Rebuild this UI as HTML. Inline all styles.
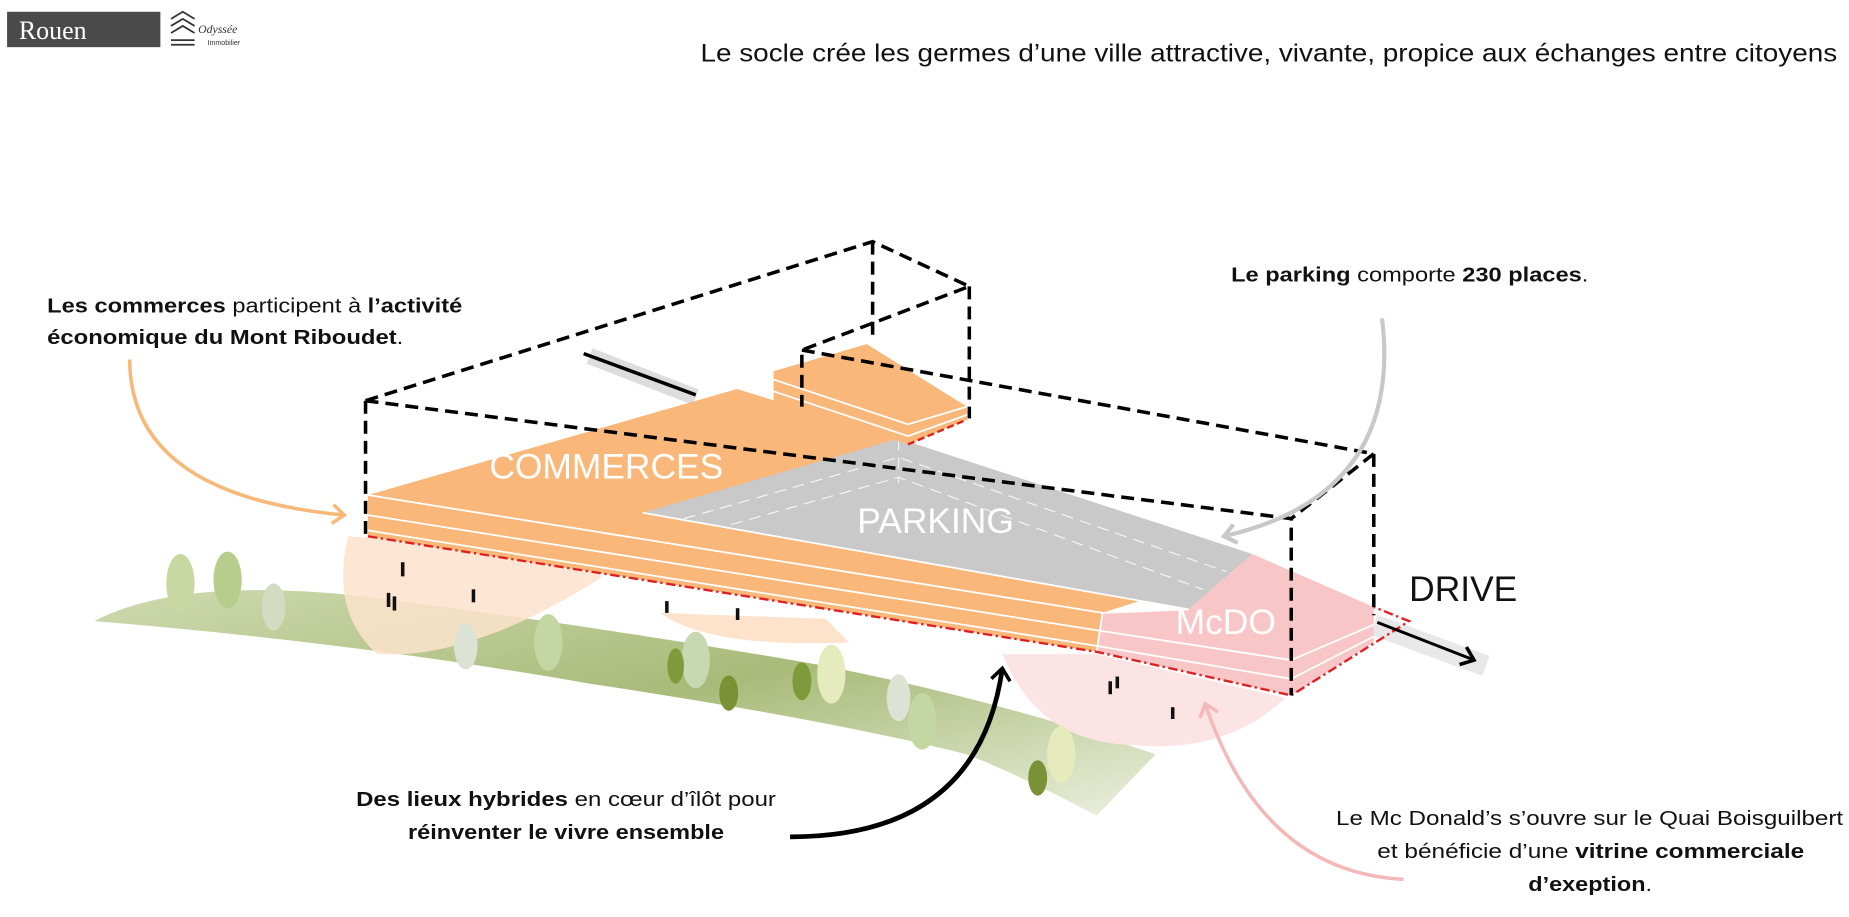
<!DOCTYPE html>
<html><head><meta charset="utf-8"><style>
html,body{margin:0;padding:0;background:#fff;}
svg{display:block;}
text{font-family:"Liberation Sans",sans-serif;}
</style></head><body>
<svg width="1849" height="917" viewBox="0 0 1568 778" preserveAspectRatio="none" xmlns="http://www.w3.org/2000/svg">
<defs>
<linearGradient id="hill" x1="0" y1="0" x2="1" y2="1">
<stop offset="0" stop-color="#c9d6a6"/><stop offset="0.5" stop-color="#9fb36a"/><stop offset="1" stop-color="#e9eedb"/>
</linearGradient>
<marker id="ao" markerUnits="userSpaceOnUse" markerWidth="24" markerHeight="24" refX="14" refY="12" orient="auto"><path d="M4,4 L14,12 L4,20" fill="none" stroke="#f6b979" stroke-width="3"/></marker>
<marker id="ag" markerUnits="userSpaceOnUse" markerWidth="24" markerHeight="24" refX="14" refY="12" orient="auto"><path d="M4,4 L14,12 L4,20" fill="none" stroke="#c8c8c8" stroke-width="3.5"/></marker>
<marker id="ab" markerUnits="userSpaceOnUse" markerWidth="24" markerHeight="24" refX="14" refY="12" orient="auto"><path d="M4,4 L14,12 L4,20" fill="none" stroke="#000" stroke-width="3"/></marker>
<marker id="ap" markerUnits="userSpaceOnUse" markerWidth="24" markerHeight="24" refX="14" refY="12" orient="auto"><path d="M4,4 L14,12 L4,20" fill="none" stroke="#f5b8b8" stroke-width="3"/></marker>
</defs>
<!-- logo -->
<rect x="6" y="10" width="130" height="30" fill="#4a4a4a"/>
<text x="16" y="33" font-size="22" fill="#fff" style="font-family:'Liberation Serif',serif">Rouen</text>
<path d="M145,16 L155,10 L165,16 M145,22 L155,16 L165,22 M145,28 L155,22 L165,28 M145,34 L165,34 M145,38 L165,38" stroke="#333" fill="none" stroke-width="1.5"/>
<text x="168" y="28" font-size="10" fill="#333" font-style="italic" style="font-family:'Liberation Serif',serif">Odyssée</text>
<text x="176" y="38" font-size="6" fill="#333">Immobilier</text>
<!-- title -->
<text x="1558" y="52" text-anchor="end" font-size="21" fill="#111" textLength="964" lengthAdjust="spacingAndGlyphs">Le socle crée les germes d’une ville attractive, vivante, propice aux échanges entre citoyens</text>
<!-- hill -->
<path d="M80,527 Q150,490 300,505 Q500,530 700,565 Q850,595 980,640 L930,692 Q870,660 820,640 Q700,610 500,580 Q300,545 80,527 Z" fill="url(#hill)" opacity="0.9"/>
<!-- blobs -->
<path d="M295,455 Q280,520 320,555 Q400,560 510,490 L500,470 Z" fill="#fde3cc" opacity="0.85"/>
<path d="M560,520 Q600,550 720,545 L700,525 Z" fill="#fde3cc"/>
<path d="M850,555 Q880,630 960,632 Q1040,640 1090,592 L930,555 Z" fill="#fde4e4"/>
<!-- trees -->
<g>
<ellipse cx="153" cy="495" rx="12" ry="25" fill="#c8d8a0"/><ellipse cx="193" cy="492" rx="12" ry="24" fill="#b6cd8c"/><ellipse cx="232" cy="515" rx="10" ry="20" fill="#d3dcc3"/>
<ellipse cx="395" cy="548" rx="10" ry="20" fill="#dde3d4"/><ellipse cx="465" cy="545" rx="12" ry="24" fill="#c4d7a3"/>
<ellipse cx="590" cy="560" rx="12" ry="24" fill="#c8d8b0"/><ellipse cx="573" cy="565" rx="7" ry="15" fill="#7f9a3a"/><ellipse cx="618" cy="588" rx="8" ry="15" fill="#7a9136"/>
<ellipse cx="680" cy="578" rx="8" ry="16" fill="#7f9a3a"/><ellipse cx="705" cy="572" rx="12" ry="25" fill="#e6ebbd"/>
<ellipse cx="762" cy="592" rx="10" ry="20" fill="#dde3d4"/><ellipse cx="782" cy="612" rx="12" ry="24" fill="#c4d7a3"/>
<ellipse cx="880" cy="660" rx="8" ry="15" fill="#7a9136"/><ellipse cx="900" cy="640" rx="12" ry="24" fill="#e6ebbd"/>
</g>
<!-- people -->
<g fill="#111"><rect x="340" y="477" width="3" height="12"/><rect x="328" y="503" width="3" height="12"/><rect x="333" y="506" width="3" height="12"/><rect x="400" y="500" width="3" height="11"/><rect x="564" y="510" width="3" height="10"/><rect x="624" y="516" width="3" height="10"/><rect x="940" y="578" width="3" height="11"/><rect x="946" y="574" width="3" height="10"/><rect x="993" y="600" width="3" height="10"/></g>
<!-- road line -->
<path d="M500,302 L590,337" stroke="#ddd" stroke-width="14"/>
<path d="M495,300 L590,335" stroke="#000" stroke-width="3"/>
<path d="M1165,530 L1260,565" stroke="#e8e8e8" stroke-width="18"/>
<!-- orange main -->
<polygon points="312,420 625,330 760,372 1065,478 935,520 930,553 312,455" fill="#f9b87a"/>
<polygon points="545,435 762,372 1062,470 1008,517" fill="#c9c9c9"/>
<g stroke="#fff" stroke-width="1" stroke-dasharray="10,6" fill="none" opacity="0.8">
<path d="M580,440 L762,388 L1040,485"/><path d="M620,445 L762,405 L1020,500"/><path d="M762,372 L762,410"/>
</g>
<polygon points="935,520 1008,517 1062,470 1165,515 1165,545 1095,590 930,553" fill="#f8c6c6"/>
<g stroke="#fff" stroke-width="1.5" fill="none">
<path d="M312,420 L935,520 L1008,517"/><path d="M312,437 L932,535 L1095,560 L1165,530"/><path d="M312,450 L930,548 L1095,576 L1165,540"/><path d="M935,520 L930,553"/><path d="M545,435 L1008,517"/>
</g>
<path d="M312,455 L930,553 L1095,590 L1195,527 L1165,515" stroke="#e02020" stroke-width="2" fill="none" stroke-dasharray="8,3,2,3"/>
<!-- small box -->
<polygon points="656,315 735,292 820,345 820,356 770,377 656,340" fill="#f9b87a"/>
<path d="M656,322 L770,360 L820,345 M656,332 L770,370 L820,352" stroke="#fff" stroke-width="1.5" fill="none"/>
<path d="M770,377 L820,356" stroke="#e02020" stroke-width="2" stroke-dasharray="6,3"/>
<!-- dashed box -->
<g stroke="#000" stroke-width="3" fill="none" stroke-dasharray="11,6">
<path d="M310,340 L740,205 L822,243 L680,297 L680,345"/>
<path d="M740,205 L740,290"/><path d="M822,243 L822,355"/>
<path d="M310,340 L310,455"/>
<path d="M310,340 L1095,440 L1095,590"/>
<path d="M680,297 L1165,385 L1165,522"/><path d="M1165,385 L1095,440"/>
</g>
<!-- drive arrow -->
<path d="M1168,528 L1250,560" stroke="#000" stroke-width="2.5" marker-end="url(#ab)" fill="none"/>
<text x="1195" y="510" font-size="30" fill="#111">DRIVE</text>
<text x="415" y="406" font-size="30" fill="#fff">COMMERCES</text>
<text x="727" y="452" font-size="30" fill="#fff">PARKING</text>
<text x="997" y="538" font-size="30" fill="#fff">McDO</text>
<!-- annotation arrows -->
<path d="M110,305 Q110,420 292,437" stroke="#f6b979" stroke-width="3" fill="none" marker-end="url(#ao)"/>
<path d="M1172,270 Q1190,420 1038,455" stroke="#c8c8c8" stroke-width="3.5" fill="none" marker-end="url(#ag)"/>
<path d="M670,710 Q830,710 850,567" stroke="#000" stroke-width="4" fill="none" marker-end="url(#ab)"/>
<path d="M1190,746 Q1070,740 1022,597" stroke="#f5b8b8" stroke-width="3" fill="none" marker-end="url(#ap)"/>
<!-- labels -->
<g font-size="17" fill="#111">
<text x="40" y="265" textLength="352" lengthAdjust="spacingAndGlyphs"><tspan font-weight="bold">Les commerces</tspan> participent à <tspan font-weight="bold">l’activité</tspan></text>
<text x="40" y="292" textLength="302" lengthAdjust="spacingAndGlyphs"><tspan font-weight="bold">économique du Mont Riboudet</tspan>.</text>
<text x="1044" y="239" textLength="303" lengthAdjust="spacingAndGlyphs"><tspan font-weight="bold">Le parking</tspan> comporte <tspan font-weight="bold">230 places</tspan>.</text>
<text x="302" y="684" textLength="356" lengthAdjust="spacingAndGlyphs"><tspan font-weight="bold">Des lieux hybrides</tspan> en cœur d’îlôt pour</text>
<text x="346" y="712" font-weight="bold" textLength="268" lengthAdjust="spacingAndGlyphs">réinventer le vivre ensemble</text>
<text x="1133" y="700" textLength="430" lengthAdjust="spacingAndGlyphs">Le Mc Donald’s s’ouvre sur le Quai Boisguilbert</text>
<text x="1168" y="728" textLength="362" lengthAdjust="spacingAndGlyphs">et bénéficie d’une <tspan font-weight="bold">vitrine commerciale</tspan></text>
<text x="1296" y="756" textLength="105" lengthAdjust="spacingAndGlyphs"><tspan font-weight="bold">d’exeption</tspan>.</text>
</g>
</svg>
</body></html>
